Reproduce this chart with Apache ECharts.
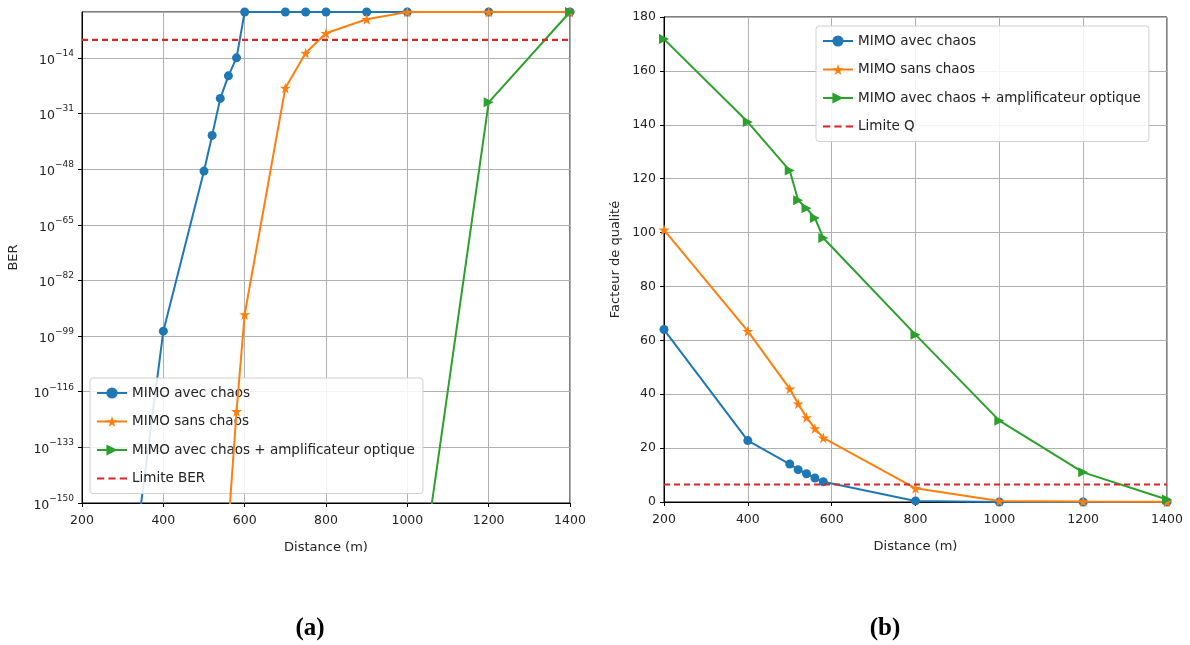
<!DOCTYPE html>
<html>
<head>
<meta charset="utf-8">
<script src="https://cdn.jsdelivr.net/npm/echarts@6/dist/echarts.min.js"></script>
<style>
html,body{margin:0;padding:0;background:#fff;}
#c{width:1190px;height:645px;}
</style>
</head>
<body>
<div id="c"></div>
<script>
// ---------- Data (a) : log10(BER) vs distance ----------
const berBlueX   = [200, 400, 500, 520, 540, 560, 580, 600, 700, 750, 800, 900, 1000, 1200, 1400];
const berBlueY   = [-290, -97.5, -48.6, -37.7, -26.4, -19.5, -14, 0, 0, 0, 0, 0, 0, 0, 0];
const berOrangeX = [560, 580, 600, 700, 750, 800, 900, 1000, 1200, 1400];
const berOrangeY = [-157, -122, -92.4, -23.2, -12.5, -6.5, -2.2, 0, 0, 0];
const berGreenX  = [1000, 1200, 1400];
const berGreenY  = [-203, -27.6, 0];
const berLimit   = -8.5;
const berTicks   = [-150, -133, -116, -99, -82, -65, -48, -31, -14];

// ---------- Data (b) : quality factor vs distance ----------
const qX       = [200, 400, 500, 520, 540, 560, 580, 800, 1000, 1200, 1400];
const qBlue    = [64, 22.8, 14.1, 12, 10.5, 8.9, 7.5, 0.4, 0, 0, 0];
const qOrange  = [101, 63.4, 42, 36.5, 31.4, 27.3, 23.8, 5.1, 0.4, 0.2, 0.1];
const qGreen   = [171.8, 141, 123, 112, 109, 105.4, 98, 62.1, 30.2, 11, 0.9];
const qLimit   = 6.5;

const names = ['MIMO avec chaos', 'MIMO sans chaos', 'MIMO avec chaos + amplificateur optique'];
const limitNames = ['Limite BER', 'Limite Q'];
const colors = ['#1f77b4', '#ff7f0e', '#2ca02c', '#d62728'];

const STAR = 'path://M50,0 L61,35 L98,35 L68,57 L79,91 L50,70 L21,91 L32,57 L2,35 L39,35 Z';
const TRI_R = 'path://M0,0 L10,5 L0,10 Z';
const DASH_ICON = 'path://M0,6 L7,6 L7,8 L0,8 Z M11,6 L18,6 L18,8 L11,8 Z M22,6 L29,6 L29,8 L22,8 Z';
const symbols = ['circle', STAR, TRI_R];
const symSizes = [9, 11, 10];

const zip = (xs, ys) => xs.map((x, i) => [x, ys[i]]);
const FONT = 'DejaVu Sans';

function lineSeries(idx, k, data) {
  return {
    name: names[k], type: 'line', xAxisIndex: idx, yAxisIndex: idx,
    data: data, symbol: symbols[k], symbolSize: symSizes[k],
    lineStyle: {color: colors[k], width: 2},
    itemStyle: {color: colors[k]},
    clip: true, z: 3 + k, animation: false
  };
}
function limitSeries(idx, name, v) {
  return {
    name: name, type: 'line', xAxisIndex: idx, yAxisIndex: idx,
    data: [[200, v], [1400, v]], symbol: 'none',
    lineStyle: {color: colors[3], width: 2.2, type: [6, 4]},
    itemStyle: {color: colors[3]}, z: 8, animation: false
  };
}

const axisCommon = {
  axisLine: {show: true, onZero: false, lineStyle: {color: '#000', width: 1}},
  axisTick: {show: true, inside: false, length: 4, lineStyle: {color: '#000'}},
  splitLine: {show: true, lineStyle: {color: '#b0b0b0', width: 1}},
  axisLabel: {color: '#222', fontFamily: FONT, fontSize: 12.5, margin: 11, formatter: v => String(v)},
  nameTextStyle: {color: '#222', fontFamily: FONT, fontSize: 13}
};

const legendCommon = {
  orient: 'vertical', backgroundColor: 'rgba(255,255,255,0.85)',
  borderColor: '#d0d0d0', borderWidth: 1, borderRadius: 3,
  padding: [8, 8, 8, 6], itemWidth: 30, itemHeight: 14, itemGap: 14.5,
  textStyle: {fontFamily: FONT, fontSize: 13.5, color: '#222'},
  selectedMode: false
};

const option = {
  backgroundColor: '#fff',
  animation: false,
  title: [
    {text: '(a)', left: 305, top: 611, textAlign: 'center',
     textStyle: {fontFamily: 'Liberation Serif', fontWeight: 'bold', fontSize: 25, color: '#000'}},
    {text: '(b)', left: 880, top: 611, textAlign: 'center',
     textStyle: {fontFamily: 'Liberation Serif', fontWeight: 'bold', fontSize: 25, color: '#000'}}
  ],
  grid: [
    {left: 82, top: 12, width: 488, height: 491, show: true, borderColor: '#000', borderWidth: 1, backgroundColor: 'transparent'},
    {left: 664, top: 17, width: 503, height: 485, show: true, borderColor: '#000', borderWidth: 1, backgroundColor: 'transparent'}
  ],
  legend: [
    Object.assign({}, legendCommon, {left: 90, top: 378,
      data: [names[0], names[1], names[2], {name: limitNames[0], icon: DASH_ICON}]}),
    Object.assign({}, legendCommon, {left: 816, top: 26,
      data: [names[0], names[1], names[2], {name: limitNames[1], icon: DASH_ICON}]})
  ],
  xAxis: [
    Object.assign({}, axisCommon, {gridIndex: 0, type: 'value', min: 200, max: 1400, interval: 200,
      name: 'Distance (m)', nameLocation: 'middle', nameGap: 38}),
    Object.assign({}, axisCommon, {gridIndex: 1, type: 'value', min: 200, max: 1400, interval: 200,
      name: 'Distance (m)', nameLocation: 'middle', nameGap: 38})
  ],
  yAxis: [
    Object.assign({}, axisCommon, {gridIndex: 0, type: 'value', min: berTicks[0], max: 0, interval: 17,
      name: 'BER', nameLocation: 'middle', nameGap: 62,
      axisLabel: {
        showMaxLabel: false, color: '#222', fontFamily: FONT, margin: 8,
        formatter: v => (v === 0 ? '' : '{b|10}{s|\u2212' + Math.abs(v) + '}'),
        rich: {
          b: {fontFamily: FONT, fontSize: 12.5, color: '#222', lineHeight: 18, verticalAlign: 'bottom'},
          s: {fontFamily: FONT, fontSize: 9, color: '#222', lineHeight: 18, verticalAlign: 'top'}
        }
      }}),
    Object.assign({}, axisCommon, {gridIndex: 1, type: 'value', min: 0, max: 180, interval: 20,
      name: 'Facteur de qualité', nameLocation: 'middle', nameGap: 42,
      axisLabel: {color: '#222', fontFamily: FONT, fontSize: 12.5, margin: 8}})
  ],
  series: [
    lineSeries(0, 0, zip(berBlueX, berBlueY)),
    lineSeries(0, 1, zip(berOrangeX, berOrangeY)),
    lineSeries(0, 2, zip(berGreenX, berGreenY)),
    limitSeries(0, limitNames[0], berLimit),
    lineSeries(1, 0, zip(qX, qBlue)),
    lineSeries(1, 1, zip(qX, qOrange)),
    lineSeries(1, 2, zip(qX, qGreen)),
    limitSeries(1, limitNames[1], qLimit)
  ]
};

const chart = echarts.init(document.getElementById('c'), null, {renderer: 'canvas'});
chart.setOption(option);
</script>
</body>
</html>
